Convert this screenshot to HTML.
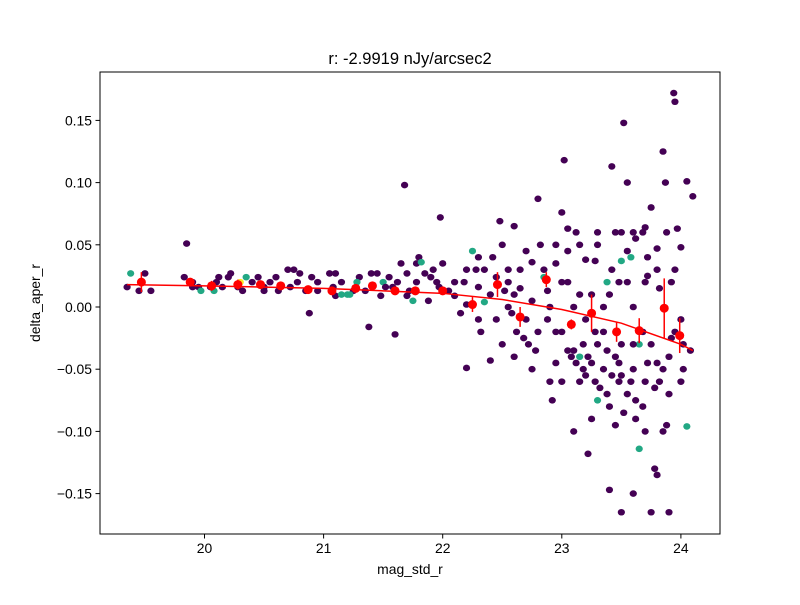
<!DOCTYPE html>
<html><head><meta charset="utf-8"><style>
body{margin:0;background:#fff;}
svg text{font-family:"Liberation Sans","DejaVu Sans",sans-serif;fill:#000;}
</style></head><body>
<svg id="chart" width="800" height="600" viewBox="0 0 800 600" xmlns="http://www.w3.org/2000/svg">
<rect width="800" height="600" fill="#fff"/>
<text x="410" y="64" font-size="16.5" text-anchor="middle">r: -2.9919 nJy/arcsec2</text>
<g id="points"></g>
<g id="fit"></g>
<g id="means"></g>
<rect x="100" y="72" width="620" height="462" fill="none" stroke="#000" stroke-width="1"/>
<g id="xticks"></g>
<g id="yticks"></g>
<text x="410" y="574" font-size="13.9" text-anchor="middle">mag_std_r</text>
<text transform="translate(40,303) rotate(-90)" font-size="13.9" text-anchor="middle">delta_aper_r</text>
</svg>
<script>
const xTicks=[20,21,22,23,24];
const yTicks=[-0.15,-0.10,-0.05,0.00,0.05,0.10,0.15];
const yTickLabels=["−0.15","−0.10","−0.05","0.00","0.05","0.10","0.15"];
// points: [mag, delta, colorClass]
const pts=[[19.38,0.027,1],[19.5,0.027,0],[19.45,0.013,0],[19.55,0.013,0],[19.35,0.016,0],[19.85,0.051,0],[19.83,0.024,0],[19.9,0.016,0],[19.95,0.016,0],[19.97,0.013,1],[19.9,0.02,0],
[20.05,0.016,0],[20.1,0.02,0],[20.12,0.024,0],[20.08,0.013,1],[20.2,0.024,0],[20.22,0.027,0],[20.15,0.016,0],[20.3,0.02,2],[20.28,0.016,0],[20.35,0.024,1],[20.32,0.013,0],[20.4,0.02,0],[20.45,0.024,0],[20.5,0.016,0],[20.55,0.02,0],[20.6,0.024,0],[20.5,0.013,0],[20.62,0.013,0],[20.7,0.03,0],[20.75,0.03,0],[20.8,0.027,0],[20.72,0.016,0],[20.78,0.02,0],[20.85,0.013,0],[20.9,0.024,0],[20.88,-0.005,0],[20.95,0.02,0],
[21.05,0.027,0],[21.1,0.027,0],[21.08,0.016,0],[21.15,0.02,0],[21.1,0.009,0],[21.15,0.01,1],[21.2,0.01,1],[21.25,0.013,0],[21.3,0.024,0],[21.28,0.02,1],[21.22,0.01,1],[21.35,0.013,0],[21.4,0.027,0],[21.38,-0.016,0],[21.45,0.027,0],[21.5,0.02,1],[21.48,0.009,0],[21.55,0.024,0],[21.58,0.016,0],[21.6,-0.022,0],[21.65,0.035,0],[21.7,0.027,0],[21.68,0.098,0],[21.72,0.013,0],[21.75,0.005,1],[21.7,0.009,0],[21.78,0.035,0],[21.8,0.04,0],[21.82,0.036,1],[21.78,0.02,0],[21.85,0.027,0],[21.9,0.024,0],[21.88,0.005,0],[21.95,0.02,0],[21.98,0.072,0],[21.97,0.016,0],[22.0,0.035,0],[22.05,0.013,0],[22.1,0.02,0],[22.1,0.009,0],[22.15,-0.005,0],[22.2,-0.049,0],
[22.25,0.045,1],[22.28,0.03,0],[22.3,0.016,0],[22.35,0.004,1],[22.32,-0.02,0],[22.4,-0.043,0],[22.45,0.024,0],[22.48,0.069,0],[22.5,0.05,0],[22.55,0.03,0],[22.52,0.013,0],[22.58,-0.005,0],[22.6,0.065,0],[22.62,-0.02,0],[22.65,0.03,0],[22.7,0.045,0],[22.72,-0.03,0],[22.75,0.036,0],[22.8,0.087,0],[22.82,0.05,0],[22.85,0.024,1],[22.88,0.013,0],[22.9,-0.06,0],[22.92,-0.075,0],[22.95,0.05,0],[23.0,0.076,0],[23.02,0.118,0],[23.05,0.02,0],[23.08,-0.04,0],[23.1,-0.1,0],[23.12,0.06,0],[23.15,0.05,0],[23.18,-0.03,0],[23.2,0.038,0],[23.22,-0.118,0],[23.25,-0.045,0],[23.28,0.037,0],[23.3,0.05,0],[23.35,-0.02,0],[23.38,0.02,1],[23.4,-0.147,0],[23.42,0.113,0],[23.45,0.06,0],[23.48,-0.06,0],[23.5,-0.165,0],[23.52,0.148,0],[23.55,0.1,0],[23.58,0.04,1],[23.6,-0.05,0],[23.62,-0.09,0],[23.65,-0.114,1],[23.68,-0.02,0],[23.7,0.064,0],[23.72,0.04,0],[23.75,-0.165,0],[23.78,-0.13,0],[23.8,0.047,0],[23.82,0.015,0],[23.85,0.125,0],[23.87,0.1,0],[23.9,-0.04,0],[23.92,0.02,0],[23.94,0.172,0],[23.95,0.165,0],[23.97,0.063,0],[24.0,-0.01,0],[24.02,-0.05,0],[24.05,0.101,0],[24.05,-0.096,1],[24.1,0.089,0],[24.08,-0.035,0],[23.85,-0.1,0],[23.9,-0.165,0],[23.8,-0.135,0],[23.6,-0.15,0],[23.55,-0.07,0],[23.3,-0.075,1],[23.25,-0.09,0],[23.15,-0.06,0],[23.05,-0.035,0],[22.95,-0.045,0],[22.8,-0.02,0],[22.75,-0.05,0],[22.6,-0.04,0],[22.5,-0.03,0],[22.4,0.01,0],[22.3,-0.01,0],[22.2,0.002,0],[23.4,0.01,0],[23.5,-0.03,0],[23.7,-0.06,0],[23.95,-0.02,0],[23.75,0.08,0],[23.9,-0.07,0],[23.2,-0.01,0],[23.1,0.0,0],[23.35,-0.05,0],[23.6,0.0,0],[23.45,-0.095,0],[23.7,-0.1,0],[23.85,-0.05,0],[24.0,0.048,0],[23.55,0.02,0],[23.0,0.02,0],[22.9,0.0,0],[23.3,0.06,0],[23.62,0.055,0],[23.65,-0.03,1],[23.5,0.037,1],[23.4,-0.08,0],[23.15,-0.04,1],[23.05,0.063,0],[22.7,-0.01,0],[22.85,0.03,0],[23.1,-0.035,0],[23.2,-0.055,0],[23.3,-0.03,0],[23.45,-0.04,0],[23.5,-0.055,0],[23.6,-0.03,0],[23.75,-0.03,0],[23.8,-0.045,0],[23.25,0.01,0],[23.35,0.0,0],[22.95,0.035,0],[23.0,-0.02,0],[22.55,0.0,0],[22.65,0.015,0],[22.45,-0.01,0],[23.95,0.03,0],[24.0,-0.06,0],[23.7,0.02,0],[23.5,0.06,0],[23.15,0.01,0],[22.75,0.005,0],
[23.12,-0.045,0],[23.18,-0.05,0],[23.22,-0.04,0],[23.28,-0.06,0],[23.32,-0.065,0],[23.38,-0.07,0],[23.42,-0.055,0],[23.48,-0.045,0],[23.52,-0.085,0],[23.58,-0.06,0],[23.62,-0.075,0],[23.68,-0.08,0],[23.72,-0.045,0],[23.78,-0.065,0],[23.82,-0.06,0],[23.88,-0.095,0],[23.92,-0.025,0],[24.02,-0.03,0],[23.42,0.03,0],[23.48,0.02,0],[23.55,0.045,0],[23.6,0.06,0],[23.68,0.06,0],[23.72,0.025,0],[23.8,0.03,0],[23.88,0.06,0],[22.35,0.03,0],[22.42,0.04,0],[22.55,0.02,0],[22.68,-0.025,0],[22.78,-0.035,0],[22.95,-0.02,0],[23.05,0.045,0],[22.3,0.04,0],[22.2,0.03,0],[22.6,0.01,0],[23.0,-0.06,0],[22.88,-0.01,0],[23.28,-0.02,0],[23.38,-0.035,0],[22.18,0.02,0],[21.92,0.03,0],[21.62,0.02,0],[21.52,0.016,0],[20.95,0.013,0]];
const colors=["#440154","#22a884","#fde725"];
const meanX=[19.47,19.88,20.06,20.28,20.47,20.64,20.87,21.07,21.27,21.41,21.6,21.77,22.0,22.25,22.46,22.65,22.87,23.08,23.25,23.46,23.65,23.86,23.99];
const meanY=[0.020,0.020,0.017,0.018,0.018,0.017,0.014,0.013,0.015,0.017,0.013,0.013,0.013,0.002,0.018,-0.008,0.022,-0.014,-0.005,-0.020,-0.019,-0.001,-0.023];
const meanErr=[0.008,0.003,0.004,0.004,0.003,0.003,0.003,0.003,0.003,0.003,0.003,0.003,0.003,0.006,0.010,0.008,0.006,0.004,0.015,0.008,0.010,0.024,0.014];
const fitX=[19.35,20,20.5,21,21.5,22,22.5,23,23.5,24,24.1];
const fitY=[0.018,0.017,0.016,0.015,0.013,0.011,0.006,-0.002,-0.013,-0.030,-0.035];
const NS="http://www.w3.org/2000/svg";
const X=v=>204.5+(v-20)*119.1;
const Y=v=>307-v*1244;
function mk(tag,attrs,parent){const e=document.createElementNS(NS,tag);for(const k in attrs)e.setAttribute(k,attrs[k]);parent.appendChild(e);return e;}
const gp=document.getElementById('points');
pts.forEach(p=>{const e=mk('ellipse',{cx:X(p[0]),cy:Y(p[1]),rx:3.6,ry:3.3,fill:colors[p[2]]},gp);

});
const gf=document.getElementById('fit');
const fl=mk('polyline',{points:fitX.map((x,i)=>X(x)+','+Y(fitY[i])).join(' '),fill:'none',stroke:'#ff0000','stroke-width':1.5},gf);


const gm=document.getElementById('means');
meanX.forEach((x,i)=>{const l=mk('line',{x1:X(x),x2:X(x),y1:Y(meanY[i]+meanErr[i]),y2:Y(meanY[i]-meanErr[i]),stroke:'#ff0000','stroke-width':1.5},gm);


const c=mk('circle',{cx:X(x),cy:Y(meanY[i]),r:4.5,fill:'#ff0000'},gm);

});
const gx=document.getElementById('xticks');
xTicks.forEach(t=>{const l=mk('line',{x1:X(t),x2:X(t),y1:534,y2:538.5,stroke:'#000'},gx);


const s=mk('text',{x:X(t),y:553,'font-size':13.9,'text-anchor':'middle'},gx);s.textContent=t;

});
const gy=document.getElementById('yticks');
yTicks.forEach((t,i)=>{const l=mk('line',{x1:95.5,x2:100,y1:Y(t),y2:Y(t),stroke:'#000'},gy);


const s=mk('text',{x:92,y:Y(t)+5,'font-size':13.9,'text-anchor':'end'},gy);s.textContent=yTickLabels[i];

});
</script>
</body></html>
